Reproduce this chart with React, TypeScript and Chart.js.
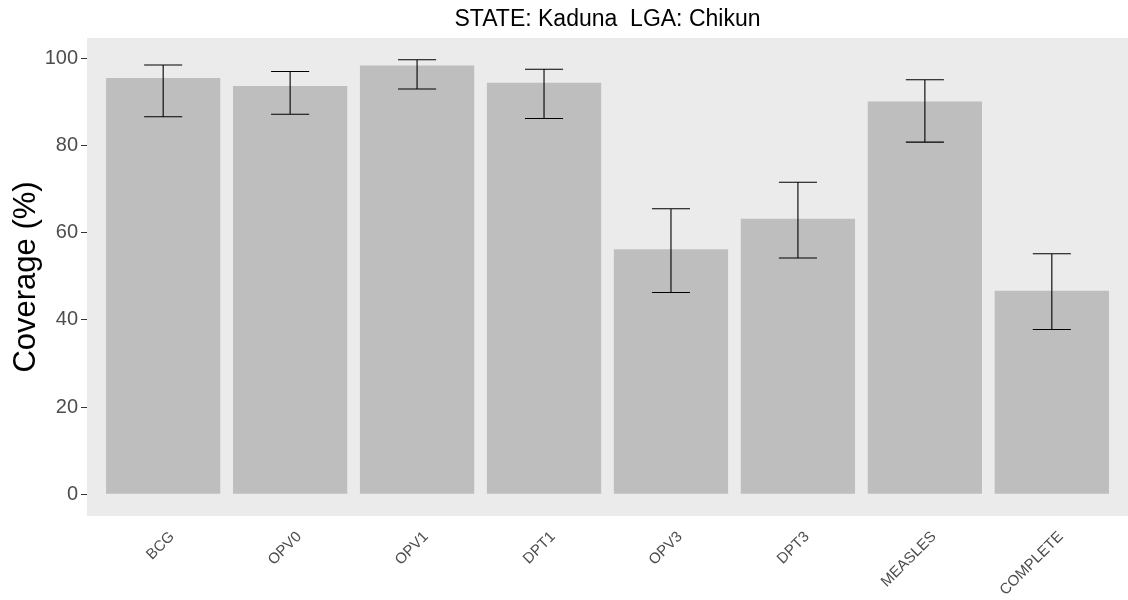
import React, { useEffect, useRef } from "react";
import { Chart, registerables } from "chart.js";

Chart.register(...registerables);

const categories = ["BCG", "OPV0", "OPV1", "DPT1", "OPV3", "DPT3", "MEASLES", "COMPLETE"];
const coverage = [95.5, 93.7, 98.4, 94.4, 56.2, 63.2, 90.1, 46.7];
const lowerCI = [86.6, 87.2, 93.0, 86.2, 46.3, 54.2, 80.8, 37.8];
const upperCI = [98.5, 97.0, 99.7, 97.5, 65.5, 71.6, 95.1, 55.2];
const yTicks = [0, 20, 40, 60, 80, 100];
const titleText = "STATE: Kaduna  LGA: Chikun";
const yTitle = "Coverage (%)";

const FONT = "'Liberation Sans', Arial, Helvetica, sans-serif";

const panelPlugin = {
  id: "panelBg",
  beforeDraw(chart: any) {
    const { ctx, chartArea } = chart;
    ctx.save();
    ctx.fillStyle = "#EBEBEB";
    ctx.fillRect(chartArea.left, chartArea.top, chartArea.right - chartArea.left, chartArea.bottom - chartArea.top);
    ctx.restore();
  },
};

const errorBarPlugin = {
  id: "errorBars",
  afterDatasetsDraw(chart: any) {
    const { ctx } = chart;
    const xs = chart.scales.x;
    const ys = chart.scales.y;
    const unit = xs.getPixelForValue(2) - xs.getPixelForValue(1);
    const half = unit * 0.15;
    ctx.save();
    ctx.strokeStyle = "#000000";
    ctx.lineWidth = 1.1;
    for (let i = 0; i < categories.length; i++) {
      const x = xs.getPixelForValue(i + 1);
      const yl = ys.getPixelForValue(lowerCI[i]);
      const yu = ys.getPixelForValue(upperCI[i]);
      ctx.beginPath();
      ctx.moveTo(x, yl);
      ctx.lineTo(x, yu);
      ctx.moveTo(x - half, yl);
      ctx.lineTo(x + half, yl);
      ctx.moveTo(x - half, yu);
      ctx.lineTo(x + half, yu);
      ctx.stroke();
    }
    ctx.restore();
  },
};

export default function App() {
  const ref = useRef<HTMLCanvasElement>(null);
  useEffect(() => {
    if (!ref.current) return;
    const upperMax = Math.max(...upperCI);
    const pad = upperMax * 0.05;
    const chart = new Chart(ref.current, {
      type: "bar",
      data: {
        datasets: [
          {
            data: coverage.map((v, i) => ({ x: i + 1, y: v })),
            backgroundColor: "#BEBEBE",
            borderWidth: 0,
            barPercentage: 0.9,
            categoryPercentage: 1,
          },
        ],
      },
      options: {
        responsive: false,
        animation: false,
        layout: { padding: 0 },
        plugins: {
          legend: { display: false },
          tooltip: { enabled: false },
          title: {
            display: true,
            text: titleText,
            fullSize: false,
            color: "#000000",
            font: { family: FONT, size: 23, weight: "normal" },
            padding: { top: 6, bottom: 4.4 },
          },
        },
        scales: {
          x: {
            type: "linear",
            min: 0.4,
            max: 8.6,
            offset: false,
            grid: { display: false, drawTicks: false, offset: false },
            border: { display: false },
            afterBuildTicks(scale: any) {
              scale.ticks = categories.map((_, i) => ({ value: i + 1 }));
            },
            afterFit(scale: any) {
              scale.height = 84;
            },
            ticks: {
              autoSkip: false,
              maxRotation: 45,
              minRotation: 45,
              padding: 12,
              labelOffset: 9,
              color: "#4D4D4D",
              font: { family: FONT, size: 15 },
              callback: (v: any) => categories[Number(v) - 1] ?? "",
            },
          },
          y: {
            min: -pad,
            max: upperMax + pad,
            grid: { display: true, drawOnChartArea: false, drawTicks: true, tickLength: 6, color: "#333333", lineWidth: 1 },
            border: { display: false },
            afterBuildTicks(scale: any) {
              scale.ticks = yTicks.map((v) => ({ value: v }));
            },
            afterFit(scale: any) {
              scale.width = 87;
            },
            ticks: {
              padding: 3,
              color: "#4D4D4D",
              font: { family: FONT, size: 20 },
            },
            title: {
              display: true,
              text: yTitle,
              color: "#000000",
              font: { family: FONT, size: 31 },
              padding: { top: 8, bottom: 0 },
            },
          },
        },
      },
      plugins: [panelPlugin, errorBarPlugin],
    } as any);
    return () => chart.destroy();
  }, []);
  return (
    <div style={{ position: "fixed", left: 0, top: 0, width: 1128, height: 600, background: "#FFFFFF" }}>
      <canvas ref={ref} width={1128} height={600} style={{ display: "block" }} />
    </div>
  );
}
